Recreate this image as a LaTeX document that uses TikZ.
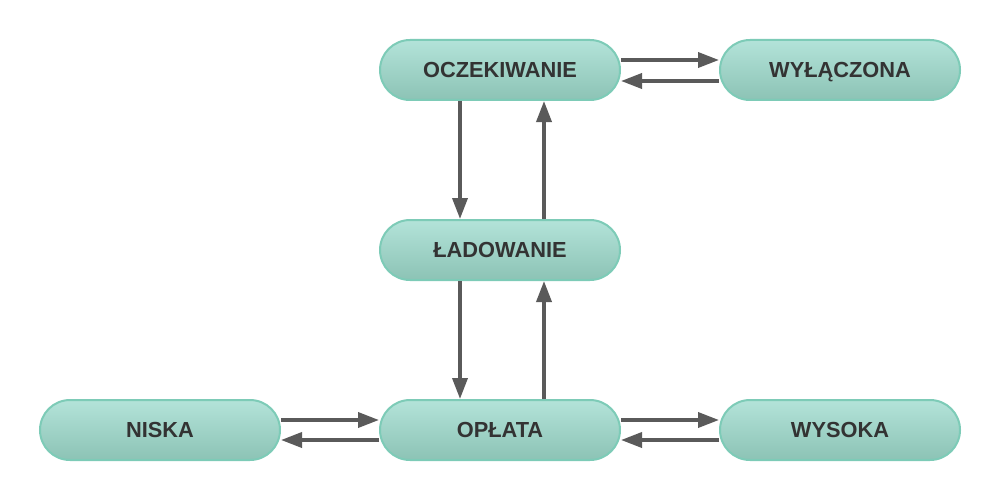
\documentclass[tikz,border=0pt]{standalone}
\usepackage{fontspec}
\setmainfont{Liberation Sans}
\usetikzlibrary{arrows.meta}
\definecolor{nodetop}{HTML}{B3E3D9}
\definecolor{nodebot}{HTML}{8CC3B5}
\definecolor{nodeborder}{HTML}{7DCBB7}
\definecolor{arrowc}{HTML}{5A5A5A}
\definecolor{textc}{HTML}{333333}
\tikzset{
  state/.style={rectangle, rounded corners=30pt, minimum width=240pt, minimum height=60pt,
    top color=nodetop, bottom color=nodebot, draw=nodeborder, line width=2pt,
    inner sep=0pt, text height=17.6pt, text depth=2pt, text=textc,
    font=\fontsize{21.8}{26}\selectfont\bfseries},
  conn/.style={draw=arrowc, line width=3.6pt, -{Triangle[length=21pt,width=15pt]}}
}
\begin{document}
\begin{tikzpicture}[x=1pt,y=-1pt]
\useasboundingbox (0,0) rectangle (1000,500);
\node[state] (ocz) at (500,70) {OCZEKIWANIE};
\node[state] (wyl) at (840,70) {WYŁĄCZONA};
\node[state] (lad) at (500,250) {ŁADOWANIE};
\node[state] (nis) at (160,430) {NISKA};
\node[state] (opl) at (500,430) {OPŁATA};
\node[state] (wys) at (840,430) {WYSOKA};
\draw[conn] ([yshift=10pt]ocz.east) -- ([yshift=10pt]wyl.west);
\draw[conn] ([yshift=-11pt]wyl.west) -- ([yshift=-11pt]ocz.east);
\draw[conn] ([xshift=-40pt]ocz.south) -- ([xshift=-40pt]lad.north);
\draw[conn] ([xshift=44pt]lad.north) -- ([xshift=44pt]ocz.south);
\draw[conn] ([xshift=-40pt]lad.south) -- ([xshift=-40pt]opl.north);
\draw[conn] ([xshift=44pt]opl.north) -- ([xshift=44pt]lad.south);
\draw[conn] ([yshift=10pt]nis.east) -- ([yshift=10pt]opl.west);
\draw[conn] ([yshift=-10pt]opl.west) -- ([yshift=-10pt]nis.east);
\draw[conn] ([yshift=10pt]opl.east) -- ([yshift=10pt]wys.west);
\draw[conn] ([yshift=-10pt]wys.west) -- ([yshift=-10pt]opl.east);
\end{tikzpicture}
\end{document}
